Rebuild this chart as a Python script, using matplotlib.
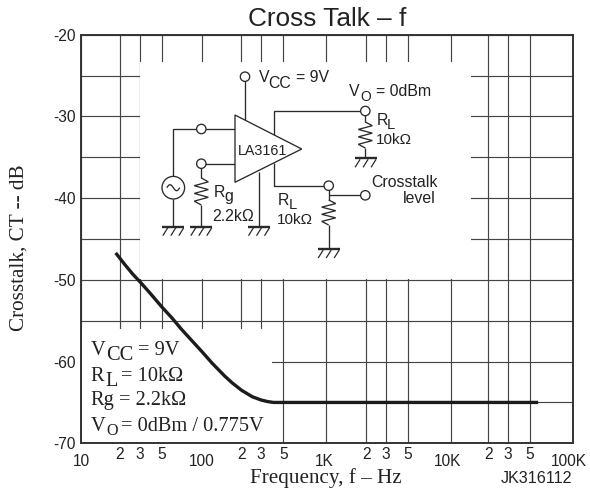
import numpy as np
import matplotlib
matplotlib.use("Agg")
import matplotlib.pyplot as plt
from matplotlib.patches import Circle, Rectangle
from matplotlib.transforms import Affine2D, ScaledTranslation

W, H = 590, 492
SANS, SERIF = "Liberation Sans", "Liberation Serif"
INK = "#222222"

# Curve
freq_hz = [18.5, 22, 26, 30, 38, 50, 60, 70, 85, 100, 120, 150, 170, 200, 250, 300, 350, 400, 500,
           1000, 2000, 5000, 10000, 20000, 57000]
crosstalk_db = [-46.7, -48.1, -49.3, -50.2, -51.6, -53.3, -54.7, -56.0, -57.5, -58.75, -60.2, -61.8, -62.6,
                -63.5, -64.3, -64.7, -64.9, -65, -65, -65, -65, -65, -65, -65, -65]

# Tick values and labels
major_x = [10, 100, 1000, 10000, 100000]
major_x_labels = ["10", "100", "1K", "10K", "100K"]
minor_x = [20, 30, 50, 200, 300, 500, 2000, 3000, 5000, 20000, 30000, 50000]
minor_x_labels = ["2", "3", "5"] * 4
major_y = [-20, -30, -40, -50, -60, -70]
minor_y = [-25, -35, -45, -55, -65]

# The printed log paper is not perfectly even: frequency vs fraction of axis width
paper_hz = [10, 20, 30, 50, 100, 200, 300, 500, 1000, 2000, 3000, 5000, 10000, 20000, 30000, 50000, 100000]
paper_frac = [0, .0784, .1185, .1633, .2447, .3256, .3655, .4111, .4979, .5799, .6200, .6648, .7517, .8277, .8678, .9132, 1]


def fwd(x):
    return np.interp(np.log10(np.clip(x, 1e-9, None)), np.log10(paper_hz), paper_frac)


def inv(y):
    return 10 ** np.interp(y, paper_frac, np.log10(paper_hz))


L, R, T, B = 81.5, 572.7, 34.7, 443.3
fig = plt.figure(figsize=(W / 100, H / 100), dpi=100, facecolor="white")
ax = fig.add_axes([L / W, 1 - B / H, (R - L) / W, (B - T) / H])
ax.set_xscale("function", functions=(fwd, inv))
ax.set_xlim(10, 100000)
ax.set_ylim(-70, -20)

ax.set_xticks(major_x, major_x_labels)
ax.set_xticks(minor_x, minor_x_labels, minor=True)
ax.set_yticks(major_y)
ax.set_yticklabels([str(v) for v in major_y])
ax.set_yticks(minor_y, minor=True)
ax.tick_params(axis="both", which="both", length=0, labelsize=11.2, labelcolor=INK)
ax.tick_params(axis="x", which="major", pad=7.5)
ax.tick_params(axis="x", which="minor", pad=3)
ax.tick_params(axis="y", which="major", pad=4)
for lab in ax.get_xticklabels(minor=True) + ax.get_xticklabels() + ax.get_yticklabels():
    lab.set_family(SANS)
# Major labels drift left of their lines in the reference
for lab, dx in zip(ax.get_xticklabels(), (0, 0, -2, -3, -4)):
    lab.set_transform(lab.get_transform() + ScaledTranslation(dx / 100, 0, fig.dpi_scale_trans))

ax.grid(True, which="both", color="#444444", lw=0.85, zorder=1)
ax.set_axisbelow(True)
for s in ax.spines.values():
    s.set_linewidth(1.4)
    s.set_color("#333333")
    s.set_zorder(5)

px = Affine2D().scale(1, -1).translate(0, H)  # reference pixel coordinates


def line(xs, ys, lw=0.95, z=3):
    ax.plot(xs, ys, transform=px, color="#2a2a2a", lw=lw, clip_on=False, zorder=z,
            solid_capstyle="butt", solid_joinstyle="miter", scalex=False, scaley=False)


def ring(x, y, r=4.7):
    ax.add_patch(Circle((x, y), r, transform=px, fc="white", ec="#2a2a2a", lw=0.95, zorder=3.2, clip_on=False))


def put(x, y, s, size=11.4, family=SANS, ha="left", **kw):
    ax.text(x, y, s, transform=px, fontsize=size, family=family, ha=ha, va="baseline",
            color=INK, zorder=6, clip_on=False, **kw)


def ground(x, y):
    line([x - 11, x + 11], [y, y], lw=1.7)
    for dx in (-8, 0, 8):
        line([x + dx + 2.5, x + dx - 2.5], [y + 1, y + 9], lw=0.9)


def resistor(x, y0, y1, amp=7):
    n = 6
    ys = np.linspace(y0, y1, n + 2)
    xs = [x] + [x + (amp if i % 2 == 0 else -amp) for i in range(n)] + [x]
    line(xs, ys)


# White panels cut out of the grid
for (x0, y0, x1, y1) in [(140.4, 62, 471, 279.4), (81.5, 329, 272, 443.3)]:
    ax.add_patch(Rectangle((x0, y0), x1 - x0, y1 - y0, transform=px, fc="white", ec="none", zorder=2))

# Curve
ax.plot(freq_hz, crosstalk_db, color="#1c1c1c", lw=2.4, zorder=4, solid_capstyle="butt", solid_joinstyle="round")

# Schematic
ax.add_patch(plt.Polygon([(235, 115), (301.7, 149), (235, 182.3)], closed=True, transform=px,
                         fc="white", ec="#2a2a2a", lw=0.95, zorder=3.1))
line([245, 245], [81, 120])
line([274.3, 274.3, 361], [135, 111, 111])
line([365.3, 365.3], [115, 122])
resistor(365.3, 122, 148)
line([365.3, 365.3], [148, 158])
ground(365.6, 158.3)
line([235, 173.3, 173.3], [129, 129, 177])
line([173.3, 173.3], [199, 226.7])
ground(173.3, 226.7)
line([235, 201.3, 201.3], [163.7, 163.7, 178])
resistor(201.3, 178, 205)
line([201.3, 201.3], [205, 226.7])
ground(201.3, 226.7)
line([259, 259], [171.7, 226.7])
ground(259, 226.7)
line([274.3, 274.3, 324], [163.3, 185.7, 185.7])
line([328.7, 328.7], [190, 200])
resistor(328.7, 200, 225)
line([328.7, 328.7], [225, 249])
ground(328.7, 249)
line([328.7, 361], [195.3, 195.3])
ring(245, 76.7)
ring(365.3, 111)
ring(201.3, 129)
ring(201.3, 163.7)
ring(328.7, 185.7)
ring(365.3, 195.3)
ax.add_patch(Circle((173.3, 187.7), 11.3, transform=px, fc="white", ec="#2a2a2a", lw=0.95, zorder=3.2, clip_on=False))
t = np.linspace(0, 1, 30)
line(173.3 - 6.5 + 13 * t, 187.7 - 3 * np.sin(2 * np.pi * t), z=3.3)

put(262.7, 155, "LA3161", 10.3, ha="center")
put(259, 81.7, "V")
put(268.3, 88.3, "CC")
put(296, 81.7, "= 9V", 11.4)
put(349, 95.7, "V")
put(360, 100.7, "O", 10)
put(376, 95.7, "= 0dBm")
put(376.7, 125, "R")
put(386.7, 129, "L", 10.6)
put(376, 144.5, "10kΩ", 11)
put(213.3, 196.7, "R")
put(224.3, 200.7, "g")
put(212.7, 220.7, "2.2kΩ")
put(277.3, 205, "R")
put(288.3, 208.7, "L", 10.6)
put(277.3, 224.5, "10kΩ", 11)
put(438, 186.7, "Crosstalk", ha="right")
put(436, 202.7, "level", ha="right")

# Condition block
S = 14.7
put(90.7, 355, "V", S, SERIF)
put(106, 360, "CC", S, SERIF)
put(138, 355, "= 9V", S, SERIF)
put(90.7, 380.7, "R", S, SERIF)
put(105, 385.7, "L", S, SERIF)
put(120.7, 380.7, "= 10kΩ", S, SERIF)
put(90.7, 405, "Rg", S, SERIF)
put(119.3, 405, "= 2.2kΩ", S, SERIF)
put(90.7, 431, "V", S, SERIF)
put(106, 435, "O", 11.5, SERIF)
put(120.7, 431, "= 0dBm / 0.775V", S, SERIF)

# Titles and labels
put(327, 26, "Cross Talk – f", 18.9, ha="center")
put(325.5, 482.7, "Frequency, f – Hz", 15.2, SERIF, ha="center")
put(536.5, 483, "JK316112", 11.6, ha="center")
ax.text(19, 248, "Crosstalk, CT -- dB", transform=px, fontsize=15.2, family=SERIF, rotation=90,
        ha="center", va="center", color=INK, clip_on=False)

fig.savefig("out.png", dpi=100, facecolor="white")
